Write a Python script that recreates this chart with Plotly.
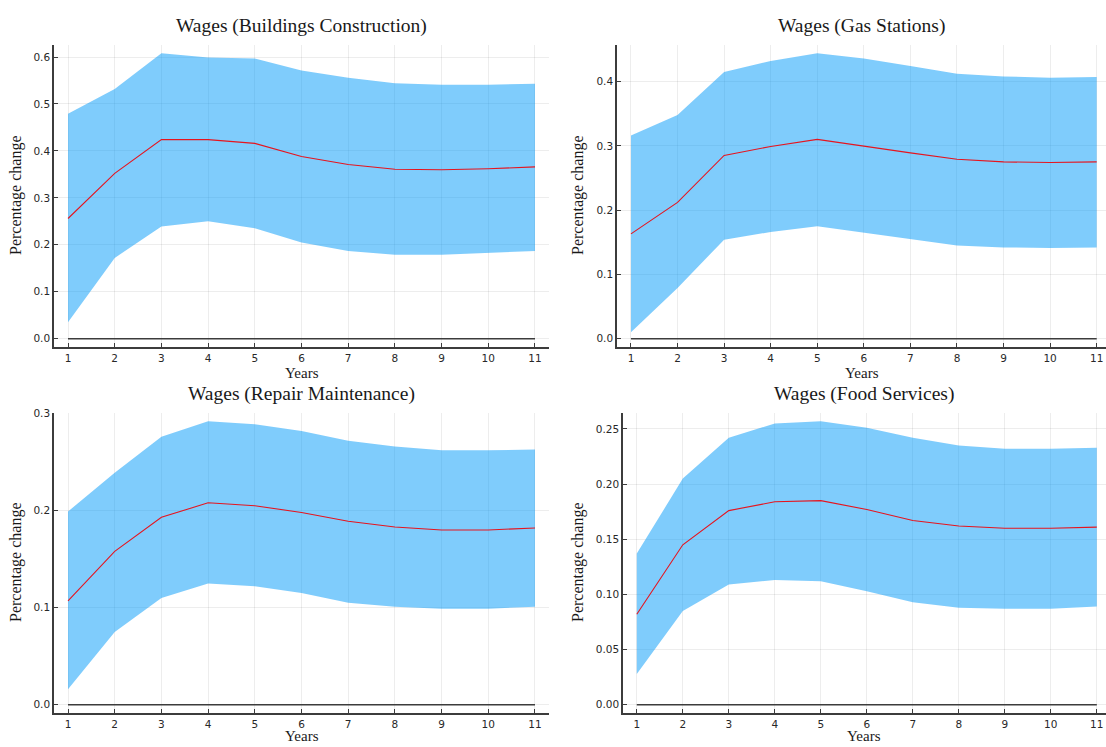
import plotly.graph_objects as go

# Horizon (years after the shock)
years = list(range(1, 12))

# Buildings Construction: point estimate and confidence band
bc_mid = [0.256, 0.352, 0.424, 0.424, 0.416, 0.388, 0.371, 0.361, 0.360, 0.362, 0.366]
bc_up = [0.479, 0.532, 0.608, 0.599, 0.597, 0.571, 0.556, 0.544, 0.541, 0.541, 0.543]
bc_lo = [0.035, 0.172, 0.239, 0.250, 0.235, 0.205, 0.187, 0.179, 0.179, 0.183, 0.187]

# Gas Stations
gs_mid = [0.163, 0.212, 0.285, 0.299, 0.310, 0.299, 0.289, 0.279, 0.275, 0.274, 0.275]
gs_up = [0.316, 0.348, 0.415, 0.432, 0.444, 0.436, 0.424, 0.412, 0.408, 0.406, 0.407]
gs_lo = [0.010, 0.079, 0.154, 0.166, 0.175, 0.165, 0.155, 0.145, 0.142, 0.141, 0.142]

# Repair Maintenance
rm_mid = [0.107, 0.158, 0.193, 0.208, 0.205, 0.198, 0.189, 0.183, 0.180, 0.180, 0.182]
rm_up = [0.199, 0.239, 0.276, 0.292, 0.289, 0.282, 0.272, 0.266, 0.262, 0.262, 0.263]
rm_lo = [0.016, 0.075, 0.110, 0.125, 0.122, 0.115, 0.105, 0.101, 0.099, 0.099, 0.101]

# Food Services
fs_mid = [0.082, 0.145, 0.176, 0.184, 0.185, 0.177, 0.167, 0.162, 0.160, 0.160, 0.161]
fs_up = [0.137, 0.205, 0.242, 0.255, 0.257, 0.251, 0.242, 0.235, 0.232, 0.232, 0.233]
fs_lo = [0.028, 0.085, 0.109, 0.113, 0.112, 0.103, 0.093, 0.088, 0.087, 0.087, 0.089]

titles = ["Wages (Buildings Construction)", "Wages (Gas Stations)",
          "Wages (Repair Maintenance)", "Wages (Food Services)"]
series = [(bc_mid, bc_up, bc_lo), (gs_mid, gs_up, gs_lo),
          (rm_mid, rm_up, rm_lo), (fs_mid, fs_up, fs_lo)]
y_dtick = [0.1, 0.1, 0.1, 0.05]
y_fmt = [".1f", ".1f", ".1f", ".2f"]

W, H = 1106, 747
# panel boxes in pixels: left, right, top, bottom
boxes = [(54, 549, 39, 344), (617, 1106, 39, 344),
         (54, 549, 410, 713), (623, 1106, 410, 713)]
x_ranges = [[0.7, 11.3], [0.7, 11.2], [0.7, 11.3], [0.7, 11.2]]

SERIF = "Liberation Serif"
SANS = "DejaVu Sans"
AXIS_COL = "rgb(60,60,60)"
TEXT_COL = "rgb(25,25,25)"
BAND = "rgba(0,154,250,0.5)"

fig = go.Figure()
annotations = []
layout = {}

for i, ((mid, up, lo), title) in enumerate(zip(series, titles)):
    n = i + 1
    xa = "x" if n == 1 else f"x{n}"
    ya = "y" if n == 1 else f"y{n}"
    # confidence band
    fig.add_trace(go.Scatter(x=years, y=lo, mode="lines", line=dict(width=0),
                             xaxis=xa, yaxis=ya, showlegend=False, hoverinfo="skip"))
    fig.add_trace(go.Scatter(x=years, y=up, mode="lines", line=dict(width=0),
                             fill="tonexty", fillcolor=BAND,
                             xaxis=xa, yaxis=ya, showlegend=False, hoverinfo="skip"))
    # zero reference
    fig.add_trace(go.Scatter(x=years, y=[0] * len(years), mode="lines",
                             line=dict(color=AXIS_COL, width=1.6),
                             xaxis=xa, yaxis=ya, showlegend=False))
    # point estimate
    fig.add_trace(go.Scatter(x=years, y=mid, mode="lines",
                             line=dict(color="rgb(230,20,30)", width=1.1),
                             xaxis=xa, yaxis=ya, showlegend=False))

    lo_v = min(0, min(lo))
    hi_v = max(up)
    pad = 0.03 * (hi_v - lo_v)
    l, r, t, b = boxes[i]
    common = dict(showline=True, linecolor=AXIS_COL, linewidth=1.6,
                  ticks="inside", ticklen=4, tickcolor=AXIS_COL, tickwidth=1,
                  showgrid=True, gridcolor="rgba(0,0,0,0.07)", gridwidth=1,
                  zeroline=False, mirror=False,
                  tickfont=dict(family=SANS, size=10.5, color="rgb(40,40,40)"))
    layout["xaxis" if n == 1 else f"xaxis{n}"] = dict(
        domain=[l / W, r / W], range=x_ranges[i], anchor=ya,
        tickmode="array", tickvals=years, ticktext=[str(v) for v in years], **common)
    layout["yaxis" if n == 1 else f"yaxis{n}"] = dict(
        domain=[1 - b / H, 1 - t / H], range=[lo_v - pad, hi_v + pad], anchor=xa,
        dtick=y_dtick[i], tick0=0, tickformat=y_fmt[i], **common)

    cx = (l + r) / 2 / W
    annotations.append(dict(text=title, x=cx, y=1 - (t - 19) / H, xref="paper", yref="paper",
                            showarrow=False, xanchor="center", yanchor="middle",
                            font=dict(family=SERIF, size=19.5, color=TEXT_COL)))
    if b < 500:
        xlab_pos = dict(y=1 - (b + 16) / H, yanchor="top")
    else:
        xlab_pos = dict(y=1 / H, yanchor="bottom")
    annotations.append(dict(text="Years", x=cx, xref="paper", yref="paper",
                            showarrow=False, xanchor="center", **xlab_pos,
                            font=dict(family=SERIF, size=15, color=TEXT_COL)))
    ylab_x = 16 if l < 300 else 578
    annotations.append(dict(text="Percentage change", x=ylab_x / W, y=1 - (t + b) / 2 / H,
                            xref="paper", yref="paper", textangle=-90,
                            showarrow=False, xanchor="center", yanchor="middle",
                            font=dict(family=SERIF, size=16, color=TEXT_COL)))

fig.update_layout(width=W, height=H, margin=dict(l=0, r=0, t=0, b=0),
                  paper_bgcolor="white", plot_bgcolor="white",
                  annotations=annotations, **layout)

fig.write_html("out.html")
